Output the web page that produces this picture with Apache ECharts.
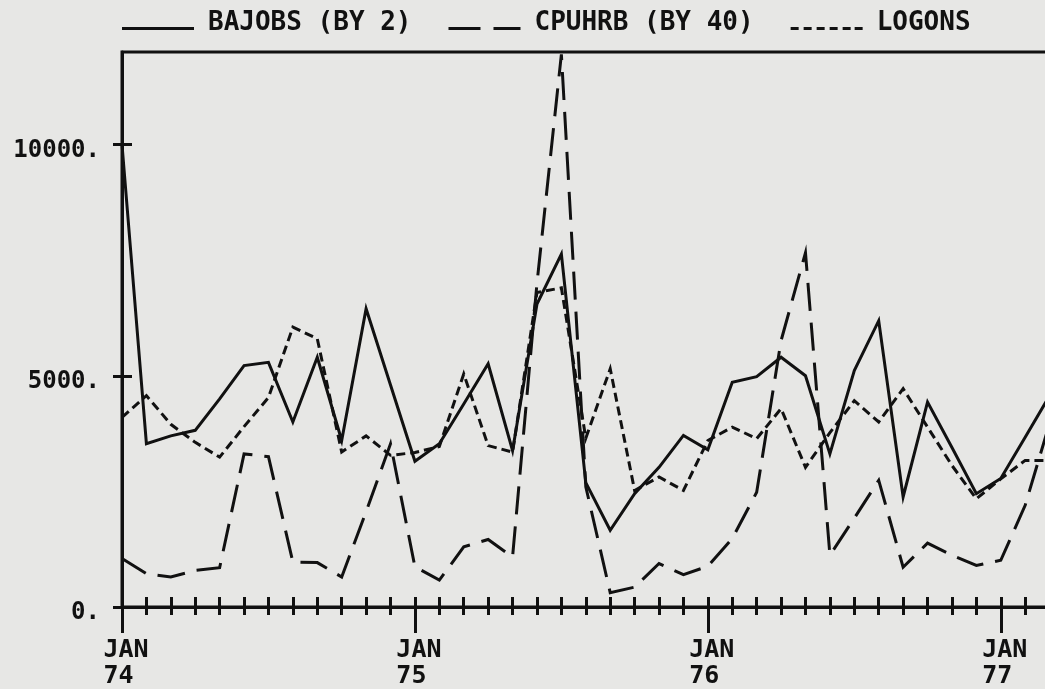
<!DOCTYPE html>
<html>
<head>
<meta charset="utf-8">
<script src="https://cdn.jsdelivr.net/npm/echarts@6/dist/echarts.min.js"></script>
<style>
  html, body { margin: 0; padding: 0; background: #e7e7e5; }
  #chart { width: 1045px; height: 689px; }
</style>
</head>
<body>
<div id="chart"></div>
<script>
// Monthly values, JAN 74 (index 0) through MAR 77 (index 38)
const bajobs = [10000, 3530, 3700, 3820, 4500, 5220, 5290, 4000, 5400, 3600,
  6450, 4800, 3150, 3530, 4390, 5260, 3380, 6550, 7630, 2690,
  1660, 2450, 3020, 3710, 3400, 4860, 4980, 5400, 5000, 3310,
  5110, 6190, 2380, 4430, 3450, 2450, 2780, 3670, 4570];
const cpuhrb = [1050, 720, 650, 790, 850, 3310, 3250, 970, 960, 650,
  2060, 3530, 870, 580, 1300, 1460, 1080, 7000, 11950, 2600,
  310, 430, 940, 700, 880, 1480, 2480, 5760, 7660, 1120,
  1920, 2740, 860, 1380, 1120, 900, 1010, 2200, 3970];
const logons = [4100, 4570, 3950, 3560, 3240, 3900, 4530, 6050, 5800, 3350,
  3700, 3280, 3340, 3470, 5040, 3490, 3350, 6800, 6900, 3650,
  5150, 2520, 2810, 2520, 3600, 3890, 3640, 4290, 3020, 3770,
  4460, 4000, 4720, 3890, 3060, 2340, 2770, 3170, 3170];
const seriesNames = ['BAJOBS (BY 2)', 'CPUHRB (BY 40)', 'LOGONS'];
const yearTicks = [0, 12, 24, 36];
const yearLabels = ['JAN\n74', 'JAN\n75', 'JAN\n76', 'JAN\n77'];
const yTicks = [0, 5000, 10000];
const yLabels = ['0.', '5000.', '10000.'];

const FONT = 'DejaVu Sans Mono';
const INK = '#111111';
const toPairs = arr => arr.map((v, i) => [i, v]);

// legend sample glyphs (line drawn near the bottom of the icon box, as in the original plot)
const anchor = 'M0,0h0.05v0.05h-0.05z ';
const iconSolid = 'path://' + anchor + 'M0,11h72v3h-72z';
const iconDash = 'path://' + anchor + 'M0,11h32v3h-32z M45,11h27v3h-27z';
const iconDot = 'path://' + anchor +
  'M0,11h8v3h-8z M13,11h8v3h-8z M26,11h8v3h-8z M39,11h8v3h-8z M52,11h8v3h-8z M64,11h8v3h-8z';

const chart = echarts.init(document.getElementById('chart'), null, { renderer: 'canvas' });

const xCommon = { type: 'value', position: 'bottom', min: 0, max: 39, splitLine: { show: false } };
const yCommon = { type: 'value', position: 'left', min: 0, max: 12000, interval: 5000, splitLine: { show: false } };

chart.setOption({
  backgroundColor: '#e7e7e5',
  animation: false,
  legend: {
    left: 122, top: 10, padding: 0,
    itemWidth: 72, itemHeight: 14, itemGap: 37,
    itemStyle: { color: INK, borderWidth: 0 },
    formatter: name => '{t|' + name + '}',
    textStyle: {
      fontFamily: FONT, fontSize: 26, fontWeight: 'bold', color: INK,
      rich: {
        t: { fontFamily: FONT, fontSize: 26, fontWeight: 'bold', color: INK,
             lineHeight: 26, verticalAlign: 'top', padding: [0, 0, 12, 9] }
      }
    },
    data: [
      { name: seriesNames[0], icon: iconSolid },
      { name: seriesNames[1], icon: iconDash },
      { name: seriesNames[2], icon: iconDot }
    ]
  },
  grid: {
    left: 122, top: 52, bottom: 82, right: -29,
    outerBoundsMode: 'none', containLabel: false,
    show: true, borderColor: INK, borderWidth: 3, backgroundColor: 'transparent'
  },
  xAxis: [
    Object.assign({}, xCommon, {
      interval: 1,
      axisLine: { show: true, lineStyle: { color: INK, width: 3 } },
      axisTick: { show: true, inside: true, length: 10, lineStyle: { color: INK, width: 3 } },
      axisLabel: { show: false }
    }),
    Object.assign({}, xCommon, {
      interval: 1,
      axisLine: { show: false },
      axisTick: { show: true, inside: false, length: 8, lineStyle: { color: INK, width: 3 } },
      axisLabel: { show: false }
    }),
    Object.assign({}, xCommon, {
      interval: 12,
      axisLine: { show: false },
      axisTick: { show: true, inside: false, length: 26, customValues: yearTicks,
                  lineStyle: { color: INK, width: 3 } },
      axisLabel: {
        show: true, customValues: yearTicks, margin: 30,
        fontFamily: FONT, fontSize: 25, fontWeight: 'bold', color: INK,
        lineHeight: 26, align: 'center', padding: [0, 0, 0, 8],
        formatter: v => {
          const k = yearTicks.indexOf(v);
          if (k < 0) return '';
          const parts = yearLabels[k].split('\n');
          return parts[0] + '\n' + parts[1] + ' ';
        }
      }
    })
  ],
  yAxis: [
    Object.assign({}, yCommon, {
      axisLine: { show: true, lineStyle: { color: INK, width: 3 } },
      axisTick: { show: true, inside: true, length: 10, customValues: yTicks,
                  lineStyle: { color: INK, width: 3 } },
      axisLabel: {
        show: true, customValues: yTicks, margin: 22,
        fontFamily: FONT, fontSize: 24, fontWeight: 'bold', color: INK,
        verticalAlign: 'top', lineHeight: 12,
        formatter: v => { const k = yTicks.indexOf(v); return k < 0 ? '' : yLabels[k]; }
      }
    }),
    Object.assign({}, yCommon, {
      axisLine: { show: false },
      axisTick: { show: true, inside: false, length: 9, customValues: yTicks,
                  lineStyle: { color: INK, width: 3 } },
      axisLabel: { show: false }
    })
  ],
  series: [
    {
      name: seriesNames[0], type: 'line', data: toPairs(bajobs),
      xAxisIndex: 0, yAxisIndex: 0, symbol: 'none', color: INK,
      lineStyle: { color: INK, width: 3, type: 'solid', join: 'miter' }
    },
    {
      name: seriesNames[1], type: 'line', data: toPairs(cpuhrb),
      xAxisIndex: 0, yAxisIndex: 0, symbol: 'none', color: INK,
      lineStyle: { color: INK, width: 3, type: [28, 12], join: 'miter' }
    },
    {
      name: seriesNames[2], type: 'line', data: toPairs(logons),
      xAxisIndex: 0, yAxisIndex: 0, symbol: 'none', color: INK,
      lineStyle: { color: INK, width: 3, type: [9, 5], join: 'miter' }
    }
  ]
});
</script>
</body>
</html>
